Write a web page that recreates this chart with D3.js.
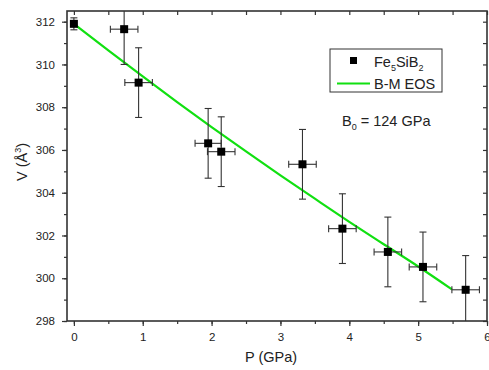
<!DOCTYPE html>
<html>
<head>
<meta charset="utf-8">
<script src="https://cdn.jsdelivr.net/npm/d3@7"></script>
<style>
  body { margin: 0; background: #fff; }
  svg { font-family: "Liberation Sans", Arial, sans-serif; }
  .tick text { font-size: 11.5px; fill: #222; }
</style>
</head>
<body>
<div id="chart"></div>
<script>
// measured points (P in GPa, V in A^3)
var pressure = [0, 0.73, 0.94, 1.95, 2.14, 3.32, 3.90, 4.56, 5.07, 5.69];
var volume   = [311.9, 311.65, 309.15, 306.31, 305.92, 305.33, 302.32, 301.23, 300.53, 299.46];
var pErr     = [0, 0.2, 0.2, 0.19, 0.2, 0.2, 0.2, 0.2, 0.2, 0.2];
var vErr     = [0.28, 1.65, 1.63, 1.63, 1.63, 1.63, 1.63, 1.63, 1.63, 1.6];

// fitted B-M EOS curve
var fitP = [0, 0.5, 1, 1.5, 2, 2.5, 3, 3.5, 4, 4.5, 5, 5.49];
var fitV = [311.9, 310.66, 309.44, 308.24, 307.07, 305.93, 304.81, 303.72, 302.64, 301.59, 300.55, 299.48];

var xTicks = [0, 1, 2, 3, 4, 5, 6];
var yTicks = [298, 300, 302, 304, 306, 308, 310, 312];

var W = 489, H = 370;
var margin = {top: 11, right: 2, bottom: 49, left: 67},
    w = W - margin.left - margin.right,
    h = H - margin.top - margin.bottom;

var xScale = d3.scaleLinear().domain([-0.1, 6]).range([0, w]);
var yScale = d3.scaleLinear().domain([298, 312.5]).range([h, 0]);

var svg = d3.select("#chart").append("svg")
    .attr("width", W).attr("height", H)
  .append("g")
    .attr("transform", "translate(" + margin.left + "," + margin.top + ")");

svg.append("defs").append("clipPath").attr("id", "clip")
  .append("rect").attr("width", w).attr("height", h);

// minor ticks
var xMinor = d3.range(0, 6.01, 0.5), yMinor = d3.range(298, 312.6, 1);
svg.append("g").attr("transform", "translate(0," + h + ")")
  .call(d3.axisBottom(xScale).tickValues(xMinor).tickSize(3).tickFormat(""))
  .call(function(g) { g.select(".domain").remove(); });
svg.append("g")
  .call(d3.axisLeft(yScale).tickValues(yMinor).tickSize(3).tickFormat(""))
  .call(function(g) { g.select(".domain").remove(); });
svg.append("g")
  .call(d3.axisTop(xScale).tickValues(xMinor).tickSize(-4).tickFormat(""))
  .call(function(g) { g.select(".domain").remove(); });
svg.append("g").attr("transform", "translate(" + w + ",0)")
  .call(d3.axisRight(yScale).tickValues(yMinor).tickSize(-4).tickFormat(""))
  .call(function(g) { g.select(".domain").remove(); });

// major axes
svg.append("g").attr("class", "x-axis").attr("transform", "translate(0," + h + ")")
  .call(d3.axisBottom(xScale).tickValues(xTicks).tickSize(5).tickPadding(7).tickFormat(d3.format("d")))
  .call(function(g) { g.select(".domain").remove(); });
svg.append("g").attr("class", "y-axis")
  .call(d3.axisLeft(yScale).tickValues(yTicks).tickSize(5).tickPadding(7).tickFormat(d3.format("d")))
  .call(function(g) { g.select(".domain").remove(); });

svg.selectAll(".tick line").attr("stroke", "#333").attr("stroke-width", 1.2);

// frame
svg.append("rect").attr("width", w).attr("height", h)
  .attr("fill", "none").attr("stroke", "#333").attr("stroke-width", 1.6);

var plot = svg.append("g").attr("clip-path", "url(#clip)");

// fit line
var line = d3.line()
  .x(function(d, i) { return xScale(fitP[i]); })
  .y(function(d) { return yScale(d); })
  .curve(d3.curveMonotoneX);
plot.append("path").datum(fitV)
  .attr("d", line)
  .attr("fill", "none")
  .attr("stroke", "#11e011")
  .attr("stroke-width", 2.2);

// error bars
var pts = pressure.map(function(p, i) {
  return {p: p, v: volume[i], ep: pErr[i], ev: vErr[i]};
});
var cap = 3.5;
var eb = plot.selectAll("g.err").data(pts).enter().append("g")
  .attr("class", "err")
  .attr("stroke", "#333").attr("stroke-width", 1.1);
eb.append("line")
  .attr("x1", function(d) { return xScale(d.p); }).attr("x2", function(d) { return xScale(d.p); })
  .attr("y1", function(d) { return yScale(d.v + d.ev); }).attr("y2", function(d) { return yScale(d.v - d.ev); });
eb.append("line")
  .attr("x1", function(d) { return xScale(d.p) - cap; }).attr("x2", function(d) { return xScale(d.p) + cap; })
  .attr("y1", function(d) { return yScale(d.v + d.ev); }).attr("y2", function(d) { return yScale(d.v + d.ev); });
eb.append("line")
  .attr("x1", function(d) { return xScale(d.p) - cap; }).attr("x2", function(d) { return xScale(d.p) + cap; })
  .attr("y1", function(d) { return yScale(d.v - d.ev); }).attr("y2", function(d) { return yScale(d.v - d.ev); });
var ebx = eb.filter(function(d) { return d.ep > 0; });
ebx.append("line")
  .attr("x1", function(d) { return xScale(d.p - d.ep); }).attr("x2", function(d) { return xScale(d.p + d.ep); })
  .attr("y1", function(d) { return yScale(d.v); }).attr("y2", function(d) { return yScale(d.v); });
ebx.append("line")
  .attr("x1", function(d) { return xScale(d.p - d.ep); }).attr("x2", function(d) { return xScale(d.p - d.ep); })
  .attr("y1", function(d) { return yScale(d.v) - cap; }).attr("y2", function(d) { return yScale(d.v) + cap; });
ebx.append("line")
  .attr("x1", function(d) { return xScale(d.p + d.ep); }).attr("x2", function(d) { return xScale(d.p + d.ep); })
  .attr("y1", function(d) { return yScale(d.v) - cap; }).attr("y2", function(d) { return yScale(d.v) + cap; });

// markers
var ms = 8;
plot.selectAll("rect.pt").data(pts).enter().append("rect")
  .attr("class", "pt")
  .attr("x", function(d) { return xScale(d.p) - ms / 2; })
  .attr("y", function(d) { return yScale(d.v) - ms / 2; })
  .attr("width", ms).attr("height", ms)
  .attr("fill", "#000");

// axis titles
svg.append("text")
  .attr("x", w / 2 - 6).attr("y", h + 41)
  .attr("text-anchor", "middle").attr("font-size", 14.5).attr("fill", "#222")
  .text("P (GPa)");
var yl = svg.append("text")
  .attr("transform", "translate(-40," + (h / 2 - 4) + ") rotate(-90)")
  .attr("text-anchor", "middle").attr("font-size", 14.5).attr("fill", "#222");
yl.append("tspan").text("V (Å");
yl.append("tspan").attr("dy", -6).attr("font-size", 9).text("3");
yl.append("tspan").attr("dy", 6).text(")");

// legend
var lg = svg.append("g").attr("transform", "translate(" + (330 - margin.left) + "," + (49 - margin.top) + ")");
lg.append("rect").attr("width", 112).attr("height", 43)
  .attr("fill", "#fff").attr("stroke", "#333").attr("stroke-width", 1);
lg.append("rect").attr("x", 20).attr("y", 8).attr("width", 7).attr("height", 7).attr("fill", "#000");
var t1 = lg.append("text").attr("x", 44).attr("y", 18).attr("font-size", 14.5).attr("fill", "#222");
t1.append("tspan").text("Fe");
t1.append("tspan").attr("dy", 4).attr("font-size", 9).text("5");
t1.append("tspan").attr("dy", -4).text("SiB");
t1.append("tspan").attr("dy", 4).attr("font-size", 9).text("2");
lg.append("line").attr("x1", 7).attr("x2", 40).attr("y1", 34.5).attr("y2", 34.5)
  .attr("stroke", "#11e011").attr("stroke-width", 2.2);
lg.append("text").attr("x", 44).attr("y", 40).attr("font-size", 14.5).attr("fill", "#222").text("B-M EOS");

// annotation
var an = svg.append("text").attr("x", 342 - margin.left).attr("y", 126 - margin.top)
  .attr("font-size", 14.5).attr("fill", "#222");
an.append("tspan").text("B");
an.append("tspan").attr("dy", 4).attr("font-size", 9).text("0");
an.append("tspan").attr("dy", -4).text(" = 124 GPa");
</script>
</body>
</html>
